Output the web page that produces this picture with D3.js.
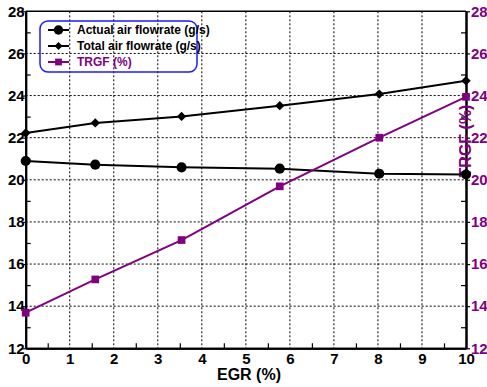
<!DOCTYPE html>
<html>
<head>
<meta charset="utf-8">
<script src="https://cdn.jsdelivr.net/npm/d3@7"></script>
<style>
  html, body { margin: 0; padding: 0; background: #fff; }
  svg { display: block; font-family: "Liberation Sans", Arial, sans-serif; font-weight: bold; }
</style>
</head>
<body>
<svg id="chart" width="487" height="387"></svg>
<script>
// EGR rate (%) at each test point
const egr = [0, 1.58, 3.54, 5.77, 8.03, 10];
// Actual air flowrate (g/s)
const actualAir = [20.89, 20.72, 20.59, 20.53, 20.29, 20.25];
// Total air flowrate (g/s)
const totalAir = [22.22, 22.70, 23.01, 23.52, 24.07, 24.70];
// TRGF (%) on the right axis
const trgf = [13.69, 15.27, 17.14, 19.69, 22.00, 23.94];

const xTicks = [0, 1, 2, 3, 4, 5, 6, 7, 8, 9, 10];
const xMinor = [0.5, 1.5, 2.5, 3.5, 4.5, 5.5, 6.5, 7.5, 8.5, 9.5];
const yTicks = [12, 14, 16, 18, 20, 22, 24, 26, 28];
const yMinor = [13, 15, 17, 19, 21, 23, 25, 27];

const purple = "#800080";
const svg = d3.select("#chart");

const plotL = 25.7, plotR = 466, plotT = 11.3, plotB = 348.3;
const x = d3.scaleLinear().domain([0, 10]).range([plotL, plotR]);
const yL = d3.scaleLinear().domain([12, 28]).range([plotB, plotT]);
const yR = d3.scaleLinear().domain([12, 28]).range([plotB, plotT]);

// dotted grid
const grid = svg.append("g").attr("stroke", "#000").attr("stroke-width", 1)
  .attr("stroke-dasharray", "2,2");
grid.selectAll("line.v").data(xTicks.slice(1, -1)).join("line")
  .attr("x1", d => x(d)).attr("x2", d => x(d)).attr("y1", plotT).attr("y2", plotB);
grid.selectAll("line.h").data(yTicks.slice(1, -1)).join("line")
  .attr("x1", plotL).attr("x2", plotR).attr("y1", d => yL(d)).attr("y2", d => yL(d));

// top frame
svg.append("line").attr("x1", plotL).attr("x2", plotR).attr("y1", plotT).attr("y2", plotT)
  .attr("stroke", "#000").attr("stroke-width", 1.5);

function styleAxis(g, color) {
  g.selectAll(".domain").attr("stroke", "#000").attr("stroke-width", 2);
  g.selectAll(".tick line").attr("stroke", "#000").attr("stroke-width", 1.2);
  g.selectAll(".tick text").attr("fill", color).attr("font-size", 15).attr("font-weight", "bold")
    .attr("font-family", "'Liberation Sans', Arial, sans-serif");
}

// left axis
const gL = svg.append("g").attr("transform", `translate(${plotL},0)`)
  .call(d3.axisLeft(yL).tickValues(yTicks).tickSize(4).tickPadding(-3).tickSizeOuter(0));
styleAxis(gL, "#000");
const gLm = svg.append("g").attr("transform", `translate(${plotL},0)`)
  .call(d3.axisRight(yL).tickValues(yMinor).tickSize(5).tickFormat("").tickSizeOuter(0));
styleAxis(gLm, "#000");

// right axis
const gR = svg.append("g").attr("transform", `translate(${plotR},0)`)
  .call(d3.axisRight(yR).tickValues(yTicks).tickSize(4).tickPadding(1).tickSizeOuter(0));
styleAxis(gR, purple);
const gRm = svg.append("g").attr("transform", `translate(${plotR},0)`)
  .call(d3.axisLeft(yR).tickValues(yMinor).tickSize(5).tickFormat("").tickSizeOuter(0));
styleAxis(gRm, "#000");

// bottom axis
const gB = svg.append("g").attr("transform", `translate(0,${plotB})`)
  .call(d3.axisBottom(x).tickValues(xTicks).tickSize(0).tickPadding(5).tickSizeOuter(0));
styleAxis(gB, "#000");
const gBm = svg.append("g").attr("transform", `translate(0,${plotB})`)
  .call(d3.axisTop(x).tickValues(xMinor).tickSize(5).tickFormat("").tickSizeOuter(0));
styleAxis(gBm, "#000");

// axis titles
svg.append("text").attr("x", 249).attr("y", 380).attr("text-anchor", "middle")
  .attr("font-size", 16).attr("fill", "#000").text("EGR (%)");
svg.append("text").attr("transform", "translate(471,141) rotate(-90)")
  .attr("text-anchor", "middle").attr("font-size", 16).attr("fill", purple).text("TRGF (%)");

// series
const series = [
  { name: "Actual air flowrate (g/s)", values: actualAir, y: yL, color: "#000", shape: "circle" },
  { name: "Total air flowrate (g/s)", values: totalAir, y: yL, color: "#000", shape: "diamond" },
  { name: "TRGF (%)", values: trgf, y: yR, color: purple, shape: "square" }
];

const symbolFor = {
  circle: { type: d3.symbolCircle, size: 80, rot: 0, legend: 70 },
  diamond: { type: d3.symbolSquare, size: 44, rot: 45, legend: 32 },
  square: { type: d3.symbolSquare, size: 59, rot: 0, legend: 46 }
};

series.forEach(s => {
  const pts = egr.map((e, i) => [e, s.values[i]]);
  svg.append("path").datum(pts)
    .attr("d", d3.line().x(d => x(d[0])).y(d => s.y(d[1])))
    .attr("fill", "none").attr("stroke", s.color).attr("stroke-width", 2);
});
series.forEach(s => {
  const sym = symbolFor[s.shape];
  svg.append("g").selectAll("path").data(egr.map((e, i) => [e, s.values[i]])).join("path")
    .attr("transform", d => `translate(${x(d[0])},${s.y(d[1])}) rotate(${sym.rot})`)
    .attr("d", d3.symbol(sym.type, sym.size)())
    .attr("fill", s.color);
});

// legend
const lg = svg.append("g");
lg.append("rect").attr("x", 40).attr("y", 21).attr("width", 157).attr("height", 51)
  .attr("rx", 8).attr("fill", "none").attr("stroke", "#1a1aff").attr("stroke-width", 1.5);
series.forEach((s, i) => {
  const cy = 30 + i * 16;
  const sym = symbolFor[s.shape];
  lg.append("line").attr("x1", 48).attr("x2", 69).attr("y1", cy).attr("y2", cy)
    .attr("stroke", s.color).attr("stroke-width", 2);
  lg.append("path").attr("transform", `translate(58.5,${cy}) rotate(${sym.rot})`)
    .attr("d", d3.symbol(sym.type, sym.legend)()).attr("fill", s.color);
  lg.append("text").attr("x", 77).attr("y", cy).attr("dy", "0.36em")
    .attr("font-size", 12).attr("fill", s.color).text(s.name);
});
</script>
</body>
</html>
